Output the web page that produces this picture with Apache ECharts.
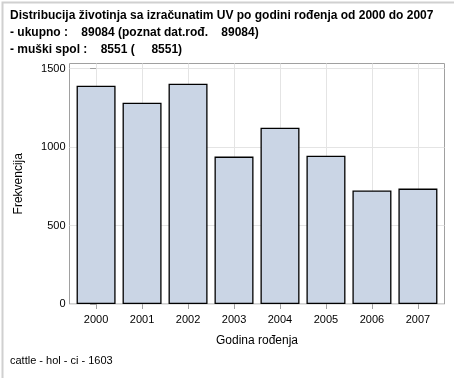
<!DOCTYPE html>
<html>
<head>
<meta charset="utf-8">
<script src="https://cdn.jsdelivr.net/npm/echarts@6/dist/echarts.min.js"></script>
<style>
html,body{margin:0;padding:0;background:#fff;}
#c{width:454px;height:378px;}
</style>
</head>
<body>
<div id="c"></div>
<script>
var titleLines = [
  'Distribucija životinja sa izračunatim UV po godini rođenja od 2000 do 2007',
  '- ukupno :    89084 (poznat dat.rođ.    89084)',
  '- muški spol :    8551 (     8551)'
];
var footnote = 'cattle - hol - ci - 1603';
var xAxisTitle = 'Godina rođenja';
var yAxisTitle = 'Frekvencija';
var years = ['2000','2001','2002','2003','2004','2005','2006','2007'];
var counts = [1390, 1282, 1403, 939, 1123, 945, 723, 735];
var yTicks = [0, 500, 1000, 1500];
var xTickPositions = [0, 1, 2, 3, 4, 5, 6, 7];

var barData = counts.map(function (v, i) { return [xTickPositions[i], v]; });

var chart = echarts.init(document.getElementById('c'), null, {renderer: 'canvas'});
var font = 'Liberation Sans, Arial, sans-serif';
chart.setOption({
  animation: false,
  backgroundColor: '#ffffff',
  textStyle: {fontFamily: font},
  title: {
    text: titleLines.join('\n'),
    left: 10, top: 7, padding: 0,
    textStyle: {fontFamily: font, fontSize: 12, fontWeight: 'bold', color: '#000', lineHeight: 17}
  },
  graphic: [
    {type: 'rect', left: 0, top: 0, shape: {width: 453, height: 377}, style: {fill: 'none', stroke: '#d0d0d0', lineWidth: 2}, silent: true},
    {type: 'text', left: 10, top: 355, style: {text: footnote, font: '11px ' + font, fill: '#000'}}
  ],
  grid: {
    left: 69.5, right: 9.5, top: 63.5, bottom: 74,
    show: true, borderColor: '#a0a0a0', borderWidth: 1, backgroundColor: '#fff'
  },
  xAxis: {
    type: 'value',
    min: -0.578, max: 7.578,
    axisLine: {show: false},
    axisTick: {show: true, length: 5, customValues: xTickPositions, lineStyle: {color: '#a0a0a0'}},
    axisLabel: {customValues: xTickPositions, margin: 10, fontSize: 11, color: '#000', fontFamily: font,
      formatter: function (v) { return years[Math.round(v)]; }},
    splitLine: {show: true, lineStyle: {color: '#e4e4e4', width: 1}},
    name: xAxisTitle, nameLocation: 'middle', nameGap: 31,
    nameTextStyle: {fontSize: 12, color: '#000', fontFamily: font}
  },
  yAxis: {
    type: 'value',
    min: 0, max: 1532,
    axisLine: {show: false},
    axisTick: {show: true, length: 6, customValues: yTicks, lineStyle: {color: '#a0a0a0'}},
    axisLabel: {customValues: yTicks, margin: 4, fontSize: 11, color: '#000', fontFamily: font,
      formatter: function (v) { return String(v); }},
    splitLine: {show: true, lineStyle: {color: '#e4e4e4', width: 1}},
    name: yAxisTitle, nameLocation: 'middle', nameGap: 45,
    nameTextStyle: {fontSize: 12, color: '#000', fontFamily: font}
  },
  series: [{
    type: 'bar',
    data: barData,
    barWidth: 39,
    itemStyle: {color: '#cad5e5', borderColor: '#000', borderWidth: 1.3}
  }]
});
</script>
</body>
</html>
